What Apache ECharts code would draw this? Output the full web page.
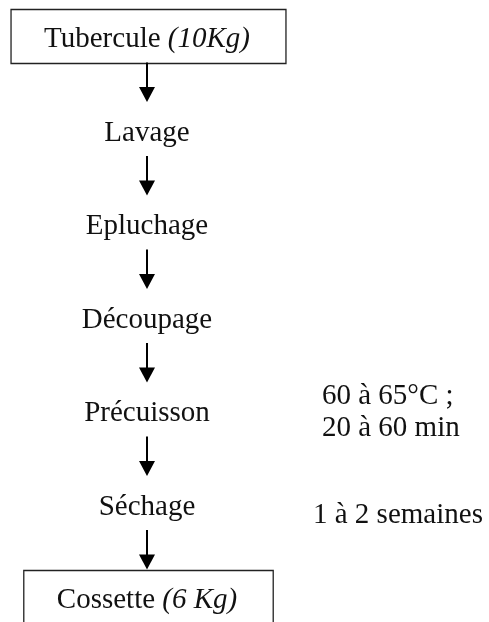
<!DOCTYPE html>
<html>
<head>
<meta charset="utf-8">
<script src="https://cdn.jsdelivr.net/npm/echarts@6/dist/echarts.min.js"></script>
<style>
  html, body { margin: 0; padding: 0; background: #fff; }
  #chart { width: 489px; height: 622px; }
</style>
</head>
<body>
<div id="chart"></div>
<script>
// process steps, top to bottom
const steps = ['Tubercule', 'Lavage', 'Epluchage', 'Découpage', 'Précuisson', 'Séchage', 'Cossette'];
// italic quantity shown next to the boxed steps
const quantities = ['(10Kg)', '', '', '', '', '', '(6 Kg)'];
// side notes (step index -> lines)
const noteSteps = [4, 5];
const noteTexts = [['60 à 65°C ;', '20 à 60 min'], ['1 à 2 semaines']];

const FONT = '"Liberation Serif", "Times New Roman", serif';
const SIZE = 29;
const CX = 147;

const measureCtx = document.createElement('canvas').getContext('2d');
function textWidth(str, italic) {
    measureCtx.font = (italic ? 'italic ' : '') + SIZE + 'px ' + FONT;
    return measureCtx.measureText(str).width;
}

const chart = echarts.init(document.getElementById('chart'));

chart.setOption({
    backgroundColor: '#fff',
    animation: false,
    grid: { left: 0, right: 0, top: 36.5, bottom: 24.5 },
    xAxis: { type: 'value', min: 0, max: 489, show: false },
    yAxis: { type: 'value', min: 0, max: steps.length - 1, inverse: true, show: false },
    series: [
        {
            type: 'custom',
            coordinateSystem: 'cartesian2d',
            data: steps.map((s, i) => [CX, i]),
            renderItem: function (params, api) {
                const i = params.dataIndex;
                const p = api.coord([CX, i]);
                const children = [];
                const q = quantities[i];
                const label = q ? steps[i] + ' {i|' + q + '}' : steps[i];
                children.push({
                    type: 'text',
                    x: p[0], y: p[1] + 3,
                    style: {
                        text: label,
                        font: SIZE + 'px ' + FONT,
                        fill: '#111',
                        align: 'center',
                        verticalAlign: 'middle',
                        rich: { i: { fontStyle: 'italic', fontSize: SIZE, fontFamily: FONT, fill: '#111' } }
                    }
                });
                if (q) {
                    const w = textWidth(steps[i] + ' ', false) + textWidth(q, true);
                    children.push({
                        type: 'rect',
                        shape: { x: p[0] - w / 2 - 33, y: p[1] - 27, width: w + 69, height: 54 },
                        style: { fill: 'none', stroke: '#222', lineWidth: 1.3 }
                    });
                }
                if (i < steps.length - 1) {
                    const n = api.coord([CX, i + 1]);
                    const y0 = p[1] + 26, y1 = n[1] - 28;
                    children.push({
                        type: 'line',
                        shape: { x1: p[0], y1: y0, x2: p[0], y2: y1 - 14 },
                        style: { stroke: '#000', lineWidth: 2 }
                    });
                    children.push({
                        type: 'polygon',
                        shape: { points: [[p[0] - 8, y1 - 15], [p[0] + 8, y1 - 15], [p[0], y1]] },
                        style: { fill: '#000' }
                    });
                }
                return { type: 'group', children: children };
            }
        },
        {
            type: 'custom',
            coordinateSystem: 'cartesian2d',
            data: noteSteps.map((s, k) => [CX, s, k]),
            renderItem: function (params, api) {
                const k = params.dataIndex;
                const p = api.coord([CX, noteSteps[k]]);
                const lines = noteTexts[k];
                const x = lines.length > 1 ? 322 : 313;
                const yOff = lines.length > 1 ? 2 : 11;
                return {
                    type: 'text',
                    x: x, y: p[1] + yOff,
                    style: {
                        text: lines.join('\n'),
                        font: SIZE + 'px ' + FONT,
                        lineHeight: 32,
                        fill: '#111',
                        align: 'left',
                        verticalAlign: 'middle'
                    }
                };
            }
        }
    ]
});
</script>
</body>
</html>
